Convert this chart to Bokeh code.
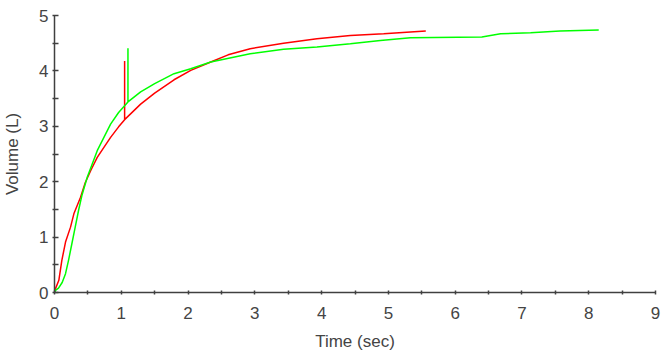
from bokeh.plotting import figure
from bokeh.models import FixedTicker, Range1d
from bokeh.embed import file_html
from bokeh.resources import INLINE

# Red trace (time in sec, volume in L)
red_t = [0, 0.015, 0.065, 0.11, 0.165, 0.24, 0.29, 0.34, 0.39, 0.46, 0.55, 0.64, 0.74, 0.84, 0.96,
         1.05, 1.05, 1.05, 1.29, 1.5, 1.79, 2.04, 2.34, 2.6, 2.93, 3.43, 3.93, 4.43, 4.93, 5.56]
red_v = [0, 0.07, 0.22, 0.58, 0.91, 1.18, 1.42, 1.57, 1.72, 1.98, 2.22, 2.44, 2.62, 2.80, 2.99,
         3.12, 4.18, 3.12, 3.40, 3.60, 3.84, 4.01, 4.16, 4.29, 4.40, 4.50, 4.58, 4.64, 4.67, 4.72]

# Green trace
green_t = [0, 0.015, 0.06, 0.115, 0.165, 0.21, 0.26, 0.31, 0.36, 0.41, 0.49, 0.64, 0.74, 0.84, 0.96,
           1.10, 1.10, 1.10, 1.29, 1.5, 1.79, 2.04, 2.34, 2.93, 3.43, 3.93, 4.43, 4.88, 5.33,
           6.40, 6.68, 7.13, 7.57, 8.15]
green_v = [0, 0.04, 0.08, 0.18, 0.34, 0.58, 0.88, 1.18, 1.48, 1.75, 2.08, 2.56, 2.80, 3.04, 3.25,
           3.44, 4.41, 3.44, 3.62, 3.77, 3.95, 4.04, 4.16, 4.31, 4.39, 4.43, 4.49, 4.55, 4.60,
           4.61, 4.67, 4.69, 4.72, 4.74]

x_ticks = [0, 1, 2, 3, 4, 5, 6, 7, 8, 9]
y_ticks = [0, 1, 2, 3, 4, 5]
x_minor = [0.5, 1.5, 2.5, 3.5, 4.5, 5.5, 6.5, 7.5, 8.5]
y_minor = [0.5, 1.5, 2.5, 3.5, 4.5]

p = figure(width=669, height=354, output_backend="svg", toolbar_location=None,
           x_range=Range1d(0, 9), y_range=Range1d(0, 5),
           min_border_left=54, min_border_right=14, min_border_top=15, min_border_bottom=62)
p.outline_line_color = None
p.grid.visible = False
p.background_fill_color = "white"
p.border_fill_color = "white"

p.line(red_t, red_v, line_color="#ff0000", line_width=1.5)
p.line(green_t, green_v, line_color="#00ff00", line_width=1.5)

for ax, ticks, minor in ((p.xaxis[0], x_ticks, x_minor), (p.yaxis[0], y_ticks, y_minor)):
    ax.ticker = FixedTicker(ticks=ticks, minor_ticks=minor)
    ax.axis_line_color = "#404040"
    ax.axis_line_width = 1.5
    ax.major_tick_line_color = "#404040"
    ax.minor_tick_line_color = "#404040"
    ax.major_tick_line_width = 1.5
    ax.minor_tick_line_width = 1.5
    ax.major_label_text_font = "Liberation Sans"
    ax.major_label_text_font_size = "17px"
    ax.major_label_text_color = "#444444"
    ax.axis_label_text_font = "Liberation Sans"
    ax.axis_label_text_font_size = "17px"
    ax.axis_label_text_font_style = "normal"
    ax.axis_label_text_color = "#444444"

p.xaxis.axis_label = "Time (sec)"
p.yaxis.axis_label = "Volume (L)"
p.xaxis.major_tick_in = 2
p.xaxis.major_tick_out = 2
p.xaxis.minor_tick_in = 2
p.xaxis.minor_tick_out = 2
p.yaxis.major_tick_in = 4
p.yaxis.major_tick_out = 2
p.yaxis.minor_tick_in = 4
p.yaxis.minor_tick_out = 2
p.xaxis.major_label_standoff = 12
p.yaxis.major_label_standoff = 4
p.xaxis.axis_label_standoff = 10
p.yaxis.axis_label_standoff = 14

open("out.html", "w").write(file_html(p, INLINE))
